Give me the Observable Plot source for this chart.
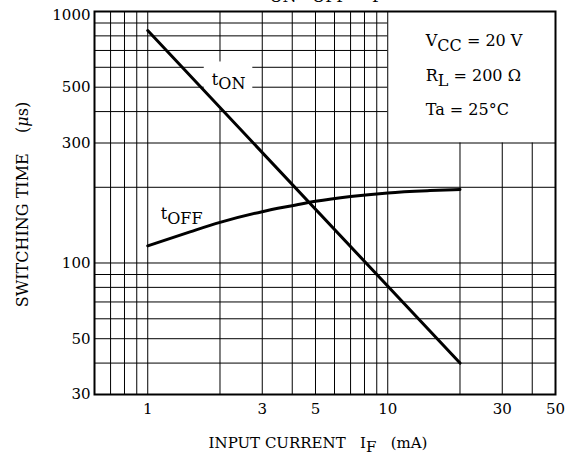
<!DOCTYPE html>
<html><head><meta charset="utf-8">
<script src="https://cdn.jsdelivr.net/npm/d3@7"></script>
<script src="https://cdn.jsdelivr.net/npm/@observablehq/plot@0.6"></script>
<style>
body{margin:0;background:#fff}
svg{overflow:visible}
</style>
</head><body><div id="chart"></div>
<script>
// ---- data ----
const xTicks = [1, 3, 5, 10, 30, 50];
const yTicks = [30, 50, 100, 300, 500, 1000];
const xGridFull = [0.7, 0.8, 0.9, 1, 2, 3, 4, 5, 6, 7, 8, 9, 10];
const xGridLow = [20, 30, 40];
const yGridFull = [40, 50, 60, 70, 80, 90, 100, 200, 300];
const yGridLeft = [400, 500, 600, 700, 800, 900];
const tonCurrent = [1, 20];
const tonTime = [840, 40];
const toffCurrent = [1, 1.5, 2, 3, 4, 5, 7, 10, 15, 20];
const toffTime = [117, 133, 145, 160, 169, 176, 184, 190, 194, 196];
const conditions = ["V{CC} = 20 V", "R{L} = 200 Ω", "Ta = 25°C"];
const title = "t{ON}, t{OFF} – I{F}";
const xLabel = "INPUT CURRENT\u00a0\u00a0\u00a0I{F}\u00a0\u00a0\u00a0(mA)";
const yLabel = "SWITCHING TIME\u00a0\u00a0\u00a0\u00a0([μ]s)";

const ton = tonCurrent.map((d, i) => ({I: d, T: tonTime[i]}));
const toff = toffCurrent.map((d, i) => ({I: d, T: toffTime[i]}));

const plot = Plot.plot({
  width: 571, height: 461,
  marginLeft: 94, marginRight: 16, marginTop: 11, marginBottom: 67,
  style: {fontFamily: "'DejaVu Serif', serif", fontSize: "15px", color: "#000", background: "#fff"},
  x: {type: "log", domain: [0.6, 50]},
  y: {type: "log", domain: [30, 1000]},
  marks: [
    Plot.ruleX(xGridFull, {stroke: "#000", strokeWidth: 1}),
    Plot.ruleX(xGridLow, {y1: 30, y2: 300, stroke: "#000", strokeWidth: 1}),
    Plot.ruleY(yGridFull, {stroke: "#000", strokeWidth: 1}),
    Plot.ruleY(yGridLeft, {x1: 0.6, x2: 10, stroke: "#000", strokeWidth: 1}),
    Plot.rect([0], {x1: () => 1.72, x2: () => 2.74, y1: () => 408, y2: () => 630, fill: "#fff"}),
    Plot.frame({stroke: "#000", strokeWidth: 2}),
    Plot.axisX({ticks: xTicks, tickSize: 0, tickPadding: 9, tickFormat: d => String(d), label: null, fontSize: 15}),
    Plot.axisY({ticks: yTicks.filter(d => d !== 1000), tickSize: 0, tickPadding: 4, tickFormat: d => String(d), label: null, fontSize: 15}),
    Plot.axisY({ticks: [1000], tickSize: 0, tickPadding: 4, tickFormat: d => String(d), label: null, fontSize: 15, dy: 4}),
    Plot.line(ton, {x: "I", y: "T", stroke: "#000", strokeWidth: 3}),
    Plot.line(toff, {x: "I", y: "T", stroke: "#000", strokeWidth: 3, curve: "monotone-x"}),
    Plot.text(["t{ON}"], {x: () => 1.85, y: () => 512, textAnchor: "start", lineAnchor: "bottom", fontSize: 16}),
    Plot.text(["t{OFF}"], {x: () => 1.133, y: () => 149, textAnchor: "start", lineAnchor: "bottom", fontSize: 16}),
    Plot.text(conditions, {x: () => 14.4, y: [726, 527, 386], textAnchor: "start", lineAnchor: "bottom", fontSize: 16}),
    Plot.text([title], {frameAnchor: "top", dx: -2, dy: -14, lineAnchor: "bottom", fontSize: 16}),
    Plot.text([xLabel], {frameAnchor: "bottom", dx: -7, dy: 53, lineAnchor: "bottom", fontSize: 15}),
    Plot.text([yLabel], {frameAnchor: "left", textAnchor: "middle", rotate: -90, dx: -67, dy: 1.5, lineAnchor: "bottom", fontSize: 16})
  ]
});

function rich(svg) {
  d3.select(svg).selectAll("text").each(function() {
    const el = this;
    if (el.querySelector("tspan")) return;
    const s = el.textContent;
    if (!/[{\[]/.test(s)) return;
    const segs = [];
    const re = /\{([^}]*)\}|\[([^\]]*)\]|([^{\[]+)/g;
    let m;
    while ((m = re.exec(s))) {
      if (m[1] != null) segs.push({t: m[1], sub: true});
      else if (m[2] != null) segs.push({t: m[2], it: true});
      else segs.push({t: m[3]});
    }
    el.textContent = "";
    let cur = 0;
    for (const g of segs) {
      const target = g.sub ? 4.5 : 0;
      const ts = d3.select(el).append("tspan").text(g.t);
      if (target !== cur) ts.attr("dy", target - cur);
      if (g.it) ts.attr("font-style", "italic");
      cur = target;
    }
  });
}
rich(plot);
document.getElementById("chart").append(plot);
</script>
</body></html>
